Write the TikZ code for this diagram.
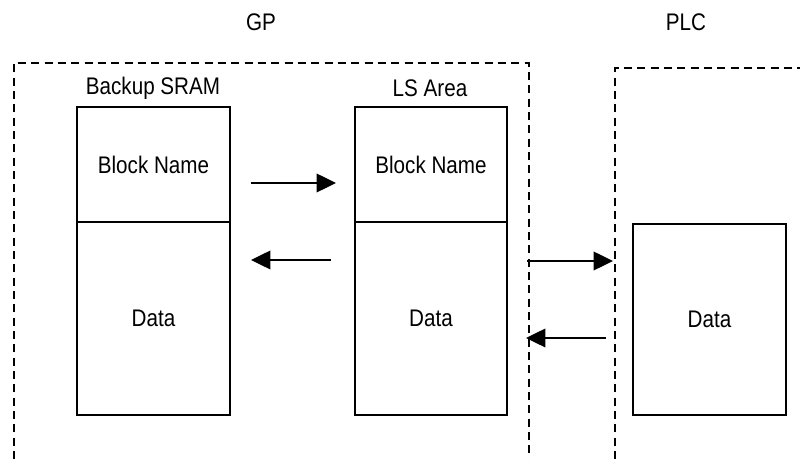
\documentclass[tikz,border=0pt]{standalone}
\usepackage{fontspec}
\setmainfont{Liberation Sans}[FakeStretch=0.86]
\usetikzlibrary{arrows.meta}
\tikzset{
  px/.style={x=0.75pt,y=-0.75pt},
  blk/.style={draw, line width=1.8pt, minimum width=153*0.75pt, inner sep=0pt, font=\fontsize{18}{21}\selectfont},
  lbl/.style={font=\fontsize{18}{21}\selectfont, inner sep=0pt},
  region/.style={line width=1.8pt, dash pattern=on 6pt off 4pt},
  flow/.style={line width=1pt, -{Triangle[length=14.5pt,width=14pt]}}
}
\begin{document}
\begin{tikzpicture}[px]
\useasboundingbox (0,0) rectangle (800,459);
% regions
\draw[region] (14,459) -- (14,63) -- (529,63) -- (529,459);
\draw[region] (615,459) -- (615,68) -- (800,68);
\node[lbl] (gp) at (261,22) {GP};
\node[lbl] (plc) at (686,22) {PLC};
% Backup SRAM
\node[lbl] (sramlbl) at (153,88) {Backup SRAM};
\node[blk, minimum height=115*0.75pt] (sramname) at (153.5,164.5) {Block Name};
\node[blk, minimum height=193*0.75pt] (sramdata) at (153.5,318.5) {Data};
% LS Area
\node[lbl] (lslbl) at (430,88) {LS Area};
\node[blk, minimum height=115*0.75pt, minimum width=152*0.75pt] (lsname) at (431,164.5) {Block Name};
\node[blk, minimum height=193*0.75pt, minimum width=152*0.75pt] (lsdata) at (431,318.5) {Data};
% PLC
\node[blk, minimum height=191*0.75pt] (plcdata) at (709.5,319.5) {Data};
% arrow endpoints
\coordinate (a1s) at (251,183); \coordinate (a1e) at (336,183);
\coordinate (a2s) at (331,260); \coordinate (a2e) at (251,260);
\coordinate (a3s) at (527,261); \coordinate (a3e) at (613,261);
\coordinate (a4s) at (606,338); \coordinate (a4e) at (526,338);
\draw[flow] (a1s) -- (a1e);
\draw[flow] (a2s) -- (a2e);
\draw[flow] (a3s) -- (a3e);
\draw[flow] (a4s) -- (a4e);
\end{tikzpicture}
\end{document}
